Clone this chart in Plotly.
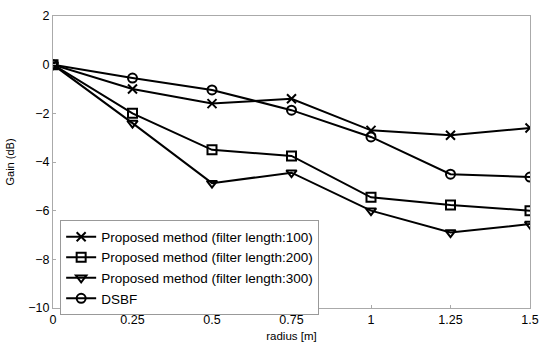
import plotly.graph_objects as go

radius = [0, 0.25, 0.5, 0.75, 1.0, 1.25, 1.5]
gain_100 = [0, -1.0, -1.6, -1.4, -2.7, -2.9, -2.6]
gain_200 = [0, -2.0, -3.5, -3.75, -5.45, -5.77, -6.0]
gain_300 = [0, -2.4, -4.87, -4.44, -6.0, -6.9, -6.55]
gain_dsbf = [0, -0.55, -1.04, -1.87, -2.97, -4.5, -4.62]
x_ticktext = ["0", "0.25", "0.5", "0.75", "1", "1.25", "1.5"]
y_tickvals = [-10, -8, -6, -4, -2, 0, 2]

names = ["Proposed method (filter length:100)",
         "Proposed method (filter length:200)",
         "Proposed method (filter length:300)",
         "DSBF"]
symbols = ["x-thin-open", "square-open", "triangle-down-open", "circle-open"]
series = [gain_100, gain_200, gain_300, gain_dsbf]

fig = go.Figure()
for n, s, y in zip(names, symbols, series):
    fig.add_trace(go.Scatter(
        x=radius, y=y, name=n, mode="lines+markers",
        line=dict(color="black", width=2),
        marker=dict(symbol=s, size=9, color="black",
                    line=dict(color="black", width=2)),
    ))

fig.update_layout(
    width=543, height=342,
    margin=dict(l=53, r=13, t=16, b=34, autoexpand=False),
    paper_bgcolor="white", plot_bgcolor="white",
    font=dict(family="Liberation Sans, Arial", size=12.5, color="black"),
    showlegend=True,
    legend=dict(x=0.015, y=0.30, xanchor="left", yanchor="top",
                bgcolor="white", bordercolor="#999999", borderwidth=1,
                font=dict(size=13.5), tracegroupgap=0, itemwidth=30),
    xaxis=dict(range=[0, 1.5], tickvals=radius, ticktext=x_ticktext,
               showgrid=False, zeroline=False, showline=True, automargin=False,
               linecolor="#aaaaaa", mirror=True, ticks="inside", ticklen=3,
               tickcolor="#aaaaaa",
               title=dict(text="radius [m]", standoff=5, font=dict(size=11.5))),
    yaxis=dict(range=[-10, 2], tickvals=y_tickvals,
               showgrid=False, zeroline=False, showline=True, automargin=False,
               linecolor="#aaaaaa", mirror=True, ticks="inside", ticklen=3,
               tickcolor="#aaaaaa",
               title=dict(text="Gain (dB)", standoff=11, font=dict(size=11))),
)

fig.write_html("out.html", config={"displayModeBar": False},
               post_script="document.body.style.margin='0';")
